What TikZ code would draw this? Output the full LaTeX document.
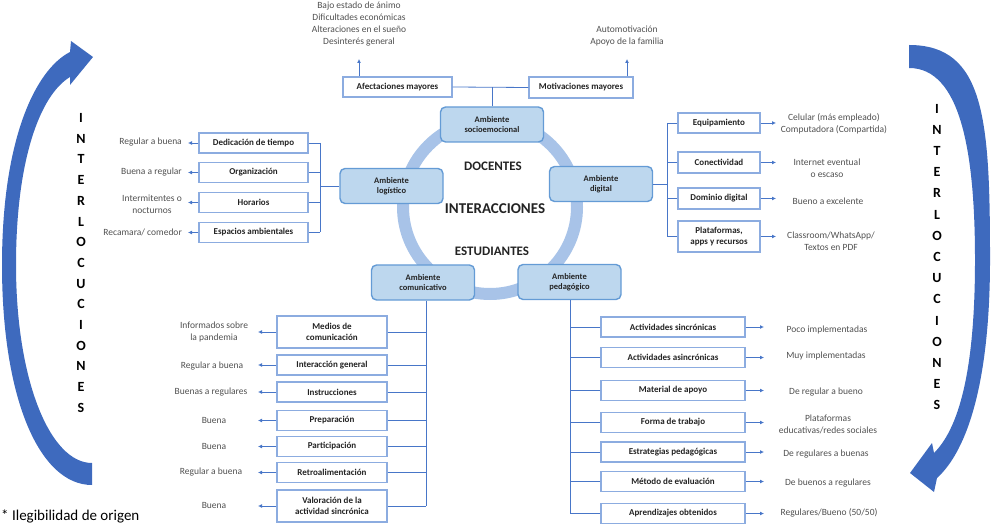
\documentclass[tikz,border=0pt]{standalone}
\usepackage{fontspec}
\setmainfont{Carlito}
\usepackage{tikz}
\usetikzlibrary{arrows.meta}
\definecolor{arrowblue}{RGB}{62, 106, 190}
\definecolor{ringblue}{RGB}{168, 195, 232}
\definecolor{envfill}{RGB}{189, 215, 238}
\definecolor{envborder}{RGB}{100, 155, 213}
\definecolor{itemborder}{RGB}{140, 172, 224}
\definecolor{linkblue}{RGB}{72, 118, 200}
\definecolor{resultgray}{RGB}{80, 80, 80}
\definecolor{labeldark}{RGB}{35, 35, 35}

\begin{document}
\begin{tikzpicture}[x=1pt, y=-1pt,
    envbox/.style={draw=envborder, fill=envfill, line width=1.4pt, rounded corners=5pt, minimum width=103pt, minimum height=35pt, align=center, inner sep=1pt, font=\fontsize{8.5}{10}\selectfont\bfseries, text=labeldark},
    itembox/.style={draw=itemborder, fill=white, line width=1.2pt, minimum height=20pt, align=center, inner sep=1pt, font=\fontsize{9}{11}\selectfont\bfseries, text=labeldark},
    result/.style={font=\fontsize{9.5}{12}\selectfont, text=resultgray, align=center, inner sep=1pt},
    centre/.style={font=\fontsize{13}{15}\selectfont\bfseries, text=labeldark, inner sep=1pt},
    link/.style={draw=linkblue, line width=0.8pt},
    outarrow/.style={link, -{Latex[length=4pt, width=4pt]}}]
    \useasboundingbox (0,0) rectangle (992,526);

    % Interlocuciones arrows
    \fill[arrowblue] (92,485) .. controls (40,485) and (2,400) .. (2,265) .. controls (2,140) and (35,70) .. (70,52)
        -- (71,41) -- (93,57) -- (70,85) -- (70,77) .. controls (40,95) and (16,160) .. (16,265) .. controls (16,380) and (50,463) .. (92,463) -- cycle;
    \fill[arrowblue] (909,45) .. controls (985,45) and (990,120) .. (990,260) .. controls (990,380) and (968,450) .. (937,478)
        -- (934,492) -- (910,473) -- (932,443) -- (934,453) .. controls (962,425) and (975,360) .. (975,260) .. controls (975,150) and (960,68) .. (909,68) -- cycle;
    \node[font=\fontsize{14}{20.7}\selectfont\bfseries, align=center, inner sep=0pt] (lwordl) at (81,263) {I\\N\\T\\E\\R\\L\\O\\C\\U\\C\\I\\O\\N\\E\\S};
    \node[font=\fontsize{14}{21.2}\selectfont\bfseries, align=center, inner sep=0pt] (lwordr) at (937,257) {I\\N\\T\\E\\R\\L\\O\\C\\U\\C\\I\\O\\N\\E\\S};

    % Ring and centre
    \draw[ringblue, line width=12pt] (490,207) circle (87pt);
    \node[centre] (doc) at (493,166) {DOCENTES};
    \node[centre, font=\fontsize{15}{17}\selectfont\bfseries] (inter) at (495,209) {INTERACCIONES};
    \node[centre] (estu) at (492,251) {ESTUDIANTES};

    % Ambientes
    \node[envbox] (soc) at (492,124.5) {Ambiente\\socioemocional};
    \node[envbox] (log) at (391.5,186) {Ambiente\\logístico};
    \node[envbox] (dig) at (601,184) {Ambiente\\digital};
    \node[envbox] (com) at (423,282.5) {Ambiente\\comunicativo};
    \node[envbox] (ped) at (569.5,282) {Ambiente\\pedagógico};

    % Socioemocional
    \node[itembox, minimum width=109pt] (afe) at (397.5,87) {Afectaciones mayores};
    \node[itembox, minimum width=104pt, minimum height=21pt] (mot) at (581,87.5) {Motivaciones mayores};
    \node[result] (afet) at (359,24) {Bajo estado de ánimo\\Dificultades económicas\\Alteraciones en el sueño\\Desinterés general};
    \node[result] (mott) at (627,35.5) {Automotivación\\Apoyo de la familia};
    \coordinate (afetip) at (359,59);
    \coordinate (mottip) at (627,59);
    \draw[link] (soc.north) -- (soc.north |- afe.east);
    \draw[link] (afe.east) -- (mot.west);
    \draw[outarrow] (afe.north -| afetip) -- (afetip);
    \draw[outarrow] (mot.north -| mottip) -- (mottip);

    % Logistico
    \node[itembox, minimum width=109pt] (ded) at (253.5,143) {Dedicación de tiempo};
    \node[itembox, minimum width=109pt] (org) at (253.5,172.5) {Organización};
    \node[itembox, minimum width=109pt] (hor) at (253.5,202.5) {Horarios};
    \node[itembox, minimum width=109pt] (esp) at (253.5,232.5) {Espacios ambientales};
    \node[result, anchor=east] (dedr) at (183,142) {Regular a buena};
    \node[result, anchor=east] (orgr) at (183,172) {Buena a regular};
    \node[result, anchor=east] (horr) at (183,204) {Intermitentes o\\nocturnos};
    \node[result, anchor=east] (espr) at (183,232) {Recamara/ comedor};
    \coordinate (logbus) at (320,0);
    \coordinate (logtip) at (188,0);
    \draw[link] (log.west) -- (log.west -| logbus);
    \draw[link] (ded.east -| logbus) -- (esp.east -| logbus);
    \foreach \n in {ded,org,hor,esp} {
        \draw[link] (\n.east) -- (\n.east -| logbus);
        \draw[outarrow] (\n.west) -- (\n.west -| logtip);
    }

    % Digital
    \node[itembox, minimum width=82pt] (equ) at (719,123) {Equipamiento};
    \node[itembox, minimum width=82pt, minimum height=21pt] (con) at (719,162.5) {Conectividad};
    \node[itembox, minimum width=82pt, minimum height=21pt] (dom) at (719,198.5) {Dominio digital};
    \node[itembox, minimum width=82pt, minimum height=31pt] (pla) at (719,236.5) {Plataformas,\\apps y recursos};
    \node[result] (equr) at (834,123.5) {Celular (más empleado)\\Computadora (Compartida)};
    \node[result] (conr) at (827,168) {Internet eventual\\o escaso};
    \node[result] (domr) at (828,201) {Bueno a excelente};
    \node[result] (plar) at (831,241) {Classroom/WhatsApp/\\Textos en PDF};
    \coordinate (digbus) at (667,0);
    \coordinate (digtip) at (776,0);
    \draw[link] (dig.east) -- (dig.east -| digbus);
    \draw[link] (equ.west -| digbus) -- (pla.west -| digbus);
    \foreach \n in {equ,con,dom,pla} {
        \draw[link] (\n.west) -- (\n.west -| digbus);
        \draw[outarrow] (\n.east) -- (\n.east -| digtip);
    }

    % Comunicativo
    \node[itembox, minimum width=110pt, minimum height=32pt] (med) at (332,332) {Medios de\\comunicación};
    \node[itembox, minimum width=110pt] (int) at (332,365) {Interacción general};
    \node[itembox, minimum width=110pt] (ins) at (332,392) {Instrucciones};
    \node[itembox, minimum width=110pt] (pre) at (332,420.5) {Preparación};
    \node[itembox, minimum width=110pt] (par) at (332,446.5) {Participación};
    \node[itembox, minimum width=110pt] (ret) at (332,472.5) {Retroalimentación};
    \node[itembox, minimum width=110pt, minimum height=32pt] (val) at (332,506) {Valoración de la\\actividad sincrónica};
    \node[result] (medr) at (214,331.5) {Informados sobre\\la pandemia};
    \node[result] (intr) at (212,366) {Regular a buena};
    \node[result] (insr) at (211,392) {Buenas a regulares};
    \node[result] (prer) at (214,420) {Buena};
    \node[result] (parr) at (214,446) {Buena};
    \node[result] (retr) at (211,472) {Regular a buena};
    \node[result] (valr) at (214,505) {Buena};
    \coordinate (combus) at (426,0);
    \coordinate (comtip) at (258,0);
    \draw[link] (com.south -| combus) -- (val.east -| combus);
    \foreach \n in {med,int,ins,pre,par,ret,val} {
        \draw[link] (\n.east) -- (\n.east -| combus);
        \draw[outarrow] (\n.west) -- (\n.west -| comtip);
    }

    % Pedagogico
    \node[itembox, minimum width=144pt] (as1) at (673,327) {Actividades sincrónicas};
    \node[itembox, minimum width=144pt] (as2) at (673,357.5) {Actividades asincrónicas};
    \node[itembox, minimum width=144pt] (mat) at (673,390.5) {Material de apoyo};
    \node[itembox, minimum width=144pt] (frm) at (673,422.5) {Forma de trabajo};
    \node[itembox, minimum width=144pt] (est) at (673,452) {Estrategias pedagógicas};
    \node[itembox, minimum width=144pt] (met) at (673,481.5) {Método de evaluación};
    \node[itembox, minimum width=144pt] (apr) at (673,513.5) {Aprendizajes obtenidos};
    \node[result] (as1r) at (827,330) {Poco implementadas};
    \node[result] (as2r) at (826,356) {Muy implementadas};
    \node[result] (matr) at (826,392) {De regular a bueno};
    \node[result] (frmr) at (828,424) {Plataformas\\educativas/redes sociales};
    \node[result] (estr) at (826,454) {De regulares a buenas};
    \node[result] (metr) at (828,483) {De buenos a regulares};
    \node[result] (aprr) at (829,513) {Regulares/Bueno (50/50)};
    \coordinate (pedbus) at (570,0);
    \coordinate (pedtip) at (764,0);
    \draw[link] (ped.south -| pedbus) -- (apr.west -| pedbus);
    \foreach \n in {as1,as2,mat,frm,est,met,apr} {
        \draw[link] (\n.west) -- (\n.west -| pedbus);
        \draw[outarrow] (\n.east) -- (\n.east -| pedtip);
    }

    % Footnote
    \node[anchor=west, font=\fontsize{15}{16}\selectfont, inner sep=0pt] (note) at (1,516) {* Ilegibilidad de origen};
\end{tikzpicture}
\end{document}
